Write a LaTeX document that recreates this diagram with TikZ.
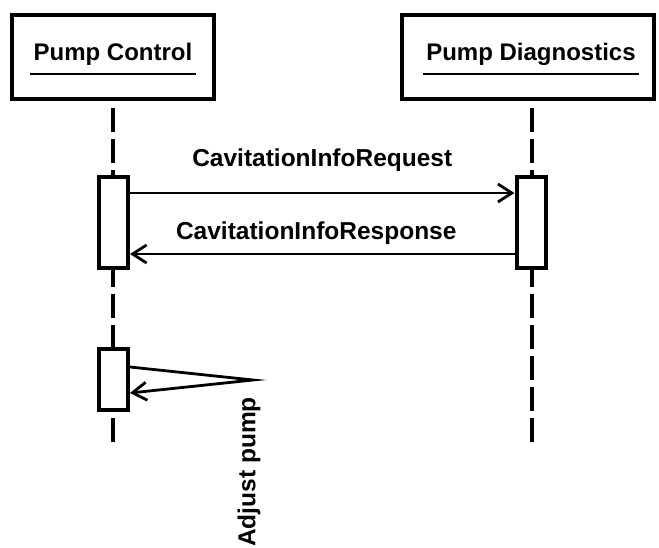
\documentclass[tikz,border=0pt]{standalone}
\usepackage{fontspec}
\setmainfont{Liberation Sans}
\usetikzlibrary{arrows.meta}
\begin{document}
\begin{tikzpicture}[x=1pt,y=-1pt,
        head/.style={draw,line width=4.5pt,inner sep=0pt,minimum height=84pt},
        headtxt/.style={font=\bfseries\fontsize{24}{28}\selectfont,inner xsep=3pt,inner ysep=8.5pt},
        msgtxt/.style={font=\bfseries\fontsize{24.5}{28}\selectfont,inner sep=3pt},
        lifeline/.style={line width=4pt,dash pattern=on 24pt off 7pt,dash phase=24pt},
        activation/.style={draw,fill=white,line width=4pt,inner sep=0pt,minimum width=29pt},
        msg/.style={line width=2.8pt,-{Straight Barb[length=14pt,width=18pt,line width=2.8pt]}}
    ]
    \useasboundingbox (0,0) rectangle (659,547);
    \node[head,minimum width=202pt] (pc) at (113,57) {};
    \node[head,minimum width=252pt] (pd) at (528,57) {};
    \node[headtxt] (pct) at (113,54) {Pump Control};
    \node[headtxt] (pdt) at (531,54) {Pump Diagnostics};
    \draw[line width=2.5pt] (pct.south west) -- (pct.south east);
    \draw[line width=2.5pt] (pdt.south west) -- (pdt.south east);
    \draw[lifeline] (pc.south) -- (pc.south |- 0,446);
    \draw[lifeline] (pd.south -| 532,0) -- (532,446);
    \node[activation,minimum height=91pt] (a1) at (113.5,222.5) {};
    \node[activation,minimum height=91pt] (a2) at (531,222.5) {};
    \node[activation,minimum height=61pt] (a3) at (113.5,379.5) {};
    \draw[msg] (a1.east |- 0,193) -- (a2.west |- 0,193)
        node[midway,above=17pt,msgtxt] (req) {CavitationInfoRequest};
    \draw[msg] (a2.west |- 0,254) -- (a1.east |- 0,254)
        node[midway,above=5pt,xshift=-6pt,msgtxt] (resp) {CavitationInfoResponse};
    \coordinate (turn) at (253,380);
    \draw[msg] (a3.east |- 0,367) -- (turn) -- (a3.east |- 0,393);
    \node[msgtxt,inner sep=0pt,rotate=90,anchor=east] (adj) at (249,397) {Adjust pump};
\end{tikzpicture}
\end{document}
